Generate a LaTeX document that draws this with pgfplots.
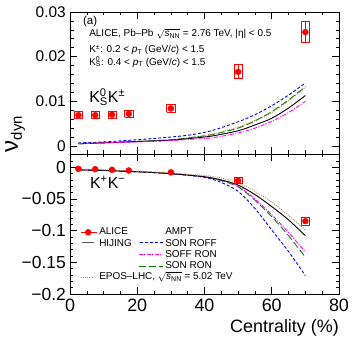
\documentclass[border=0pt]{standalone}
\usepackage{fontspec}
\setmainfont{Liberation Sans}
\usepackage{pgfplots}
\pgfplotsset{compat=1.18}

\definecolor{rred}{RGB}{255,0,0}
\definecolor{rblue}{RGB}{0,0,255}
\definecolor{rmag}{RGB}{255,0,255}
\definecolor{rgreen}{RGB}{0,135,0}
\definecolor{rbrown}{RGB}{175,130,90}

\newcommand{\sNN}{$\sqrt{\mbox{\textit{s}\textsubscript{NN}}}$}
\newcommand{\KS}{K\rlap{\textsuperscript{0}}\textsubscript{S}}

\tikzset{
  son roff/.style={draw=rblue, color=rblue, line width=0.9bp, dash pattern=on 3bp off 2bp},
  soff ron/.style={draw=rmag, color=rmag, line width=0.9bp, dash pattern=on 4bp off 1.5bp on 1bp off 1.5bp},
  son ron/.style={draw=rgreen, color=rgreen, line width=0.9bp, dash pattern=on 7bp off 3bp},
  epos/.style={draw=rbrown, color=rbrown, line width=0.9bp, dash pattern=on 1bp off 1.2bp},
  hijing/.style={draw=black, color=black, line width=0.9bp},
}

\pgfplotsset{
  rootframe/.style={
    scale only axis, width=269bp,
    xmin=0, xmax=80,
    axis line style={line width=0.8bp},
    major tick length=7bp, minor tick length=3.5bp,
    every tick/.style={line width=0.6bp, black},
    xtick={0,20,40,60,80},
    minor xtick={5,10,15,25,30,35,45,50,55,65,70,75},
    scaled y ticks=false, scaled x ticks=false,
    clip=false,
    yticklabel style={inner sep=0pt, xshift=-4bp},
  },
  alice syst/.style={rred, line width=0.7bp, no marks, unbounded coords=jump, forget plot},
  alice pts/.style={rred, only marks, mark=*, mark size=3bp, forget plot,
    error bars/.cd, y dir=both, y explicit, error mark=none,
    error bar style={line width=0.8bp, rred}},
  legbase/.style={draw=none, fill=none, font=\fontsize{10}{11}\selectfont,
    inner sep=0pt, row sep=0pt,
    nodes={text height=7.5bp, text depth=2.5bp, inner sep=0.6bp},
    /tikz/every odd column/.append style={column sep=1.5bp}},
}

\begin{document}
\begin{tikzpicture}
\path[use as bounding box] (-70bp,-50bp) rectangle (284bp,294bp);

% ---------------- top panel: K0S K+-
\begin{axis}[rootframe,
  at={(0bp,140bp)}, anchor=south west,
  height=142bp,
  ymin=-0.0018, ymax=0.03,
  ytick={0,0.01,0.02,0.03},
  yticklabels={0,0.01,0.02,0.03},
  minor ytick={0.002,0.004,0.006,0.008,0.012,0.014,0.016,0.018,0.022,0.024,0.026,0.028},
  yticklabel style={font=\fontsize{15.5}{16}\selectfont},
  xticklabel=\empty,
  legend style={legbase, at={(rel axis cs:0.253,-0.511)}, anchor=north west},
  legend cell align=left,
]
\addplot[son roff, smooth, forget plot] coordinates {(2.5,0.0007) (10,0.0009) (20,0.0014) (30,0.0020) (36,0.0025) (42,0.0034) (50,0.0054) (55,0.0070) (60,0.0090) (65,0.0114) (70,0.0141)};
\addplot[son ron, smooth, forget plot] coordinates {(2.5,0.0005) (10,0.0007) (20,0.0010) (30,0.0014) (36,0.0019) (42,0.0025) (50,0.0040) (55,0.0056) (60,0.0077) (65,0.0103) (70,0.0133)};
\addplot[epos, smooth, forget plot] coordinates {(2.5,0.0005) (10,0.0007) (20,0.0010) (30,0.0014) (36,0.0019) (42,0.0026) (50,0.0042) (55,0.0057) (60,0.0075) (65,0.0101) (70,0.0131)};
\addplot[hijing, smooth, forget plot] coordinates {(2.5,0.0005) (10,0.0007) (20,0.0010) (30,0.0013) (36,0.0017) (42,0.0022) (50,0.0034) (55,0.0047) (60,0.0062) (65,0.0085) (70,0.0113)};
\addplot[soff ron, smooth, forget plot] coordinates {(2.5,0.0005) (10,0.0007) (20,0.0009) (30,0.0012) (36,0.0015) (42,0.0018) (50,0.0029) (55,0.0040) (60,0.0055) (65,0.0075) (70,0.0100)};
% systematic boxes
\addplot[alice syst] coordinates {
 (1.3,0.0061) (3.7,0.0061) (3.7,0.0077) (1.3,0.0077) (1.3,0.0061) (1.3,nan)
 (6.3,0.0061) (8.7,0.0061) (8.7,0.0077) (6.3,0.0077) (6.3,0.0061) (6.3,nan)
 (11.3,0.0062) (13.7,0.0062) (13.7,0.0078) (11.3,0.0078) (11.3,0.0062) (11.3,nan)
 (16.3,0.0064) (18.7,0.0064) (18.7,0.0080) (16.3,0.0080) (16.3,0.0064) (16.3,nan)
 (28.8,0.0075) (31.2,0.0075) (31.2,0.0093) (28.8,0.0093) (28.8,0.0075) (28.8,nan)
 (48.8,0.0151) (51.2,0.0151) (51.2,0.0183) (48.8,0.0183) (48.8,0.0151) (48.8,nan)
 (68.8,0.0231) (71.2,0.0231) (71.2,0.0279) (68.8,0.0279) (68.8,0.0231)};
\addplot[alice pts] coordinates {
 (2.5,0.0069) +- (0,0.0002) (7.5,0.0069) +- (0,0.0002) (12.5,0.0070) +- (0,0.0002)
 (17.5,0.0072) +- (0,0.0002) (30,0.0084) +- (0,0.0003) (50,0.0166) +- (0,0.0015)
 (70,0.0255) +- (0,0.0022)};

\addlegendimage{empty legend}\addlegendentry{AMPT}
\addlegendimage{empty legend}\addlegendentry{SON ROFF}
\addlegendimage{legend image code/.code={\draw[rmag, line width=0.9bp, dash pattern=on 4bp off 1.5bp on 1bp off 1.5bp] (0bp,0bp) -- (24bp,0bp);}}\addlegendentry{SOFF RON}
\addlegendimage{legend image code/.code={\draw[rgreen, line width=0.9bp, dash pattern=on 7bp off 3bp] (0bp,0bp) -- (24bp,0bp);}}\addlegendentry{SON RON}
% line sample of the SON ROFF legend row
\draw[son roff] (rel axis cs:0.2602,-0.6197) -- (rel axis cs:0.3494,-0.6197);

\node[anchor=west, inner sep=0pt, font=\fontsize{11.5}{12}\selectfont] at (rel axis cs:0.048,0.930) {(a)};
\begin{scope}[every node/.style={anchor=west, inner sep=0pt, font=\fontsize{10}{11}\selectfont}]
\node at (rel axis cs:0.071,0.845) {ALICE, Pb--Pb \sNN{} = 2.76 TeV, |η| < 0.5};
\node at (rel axis cs:0.071,0.732) {K\textsuperscript{±}: 0.2 < \textit{p}\textsubscript{T} (GeV/\textit{c}) < 1.5};
\node at (rel axis cs:0.071,0.648) {\KS: 0.4 < \textit{p}\textsubscript{T} (GeV/\textit{c}) < 1.5};
\end{scope}
\node[anchor=west, inner sep=0pt, font=\fontsize{16}{17}\selectfont] at (rel axis cs:0.071,0.401) {\KS K\textsuperscript{±}};
\end{axis}

% ---------------- bottom panel: K+ K-
\begin{axis}[rootframe,
  at={(0bp,0bp)}, anchor=south west,
  height=140bp,
  ymin=-0.2, ymax=0.021,
  ytick={-0.2,-0.15,-0.1,-0.05,0},
  yticklabels={−0.2,−0.15,−0.1,−0.05,0},
  minor ytick={-0.19,-0.18,-0.17,-0.16,-0.14,-0.13,-0.12,-0.11,-0.09,-0.08,-0.07,-0.06,-0.04,-0.03,-0.02,-0.01,0.01,0.02},
  yticklabel style={font=\fontsize{17.5}{18}\selectfont},
  xticklabels={0,20,40,60,80},
  xticklabel style={font=\fontsize{18}{18}\selectfont, inner sep=0pt, yshift=-4.5bp},
  xlabel={Centrality (\%)},
  xlabel style={at={(rel axis cs:1,0)}, anchor=base east, yshift=-38bp, inner sep=0pt,
    font=\fontsize{18}{18}\selectfont},
  legend style={legbase, at={(rel axis cs:0.037,0.482)}, anchor=north west},
  legend cell align=left,
]
\addplot[son roff, smooth, forget plot] coordinates {(2.5,-0.004) (10,-0.005) (20,-0.007) (30,-0.010) (40,-0.016) (45,-0.024) (50,-0.038) (55,-0.065) (60,-0.099) (65,-0.133) (70,-0.171)};
\addplot[son ron, smooth, forget plot] coordinates {(2.5,-0.004) (10,-0.005) (20,-0.007) (30,-0.010) (40,-0.015) (45,-0.021) (50,-0.031) (55,-0.052) (60,-0.078) (65,-0.108) (70,-0.142)};
\addplot[soff ron, smooth, forget plot] coordinates {(2.5,-0.004) (10,-0.005) (20,-0.007) (30,-0.010) (40,-0.015) (45,-0.021) (50,-0.030) (55,-0.050) (60,-0.075) (65,-0.103) (70,-0.134)};
\addplot[hijing, smooth, forget plot] coordinates {(2.5,-0.004) (10,-0.005) (20,-0.007) (30,-0.010) (40,-0.015) (45,-0.020) (50,-0.028) (55,-0.043) (60,-0.062) (65,-0.083) (70,-0.108)};
\addplot[epos, smooth, forget plot] coordinates {(2.5,-0.003) (10,-0.004) (20,-0.006) (30,-0.009) (40,-0.013) (45,-0.017) (50,-0.025) (55,-0.038) (60,-0.055) (65,-0.076) (70,-0.099)};
\addplot[alice syst] coordinates {
 (48.8,-0.0257) (51.2,-0.0257) (51.2,-0.0163) (48.8,-0.0163) (48.8,-0.0257) (48.8,nan)
 (68.8,-0.0913) (71.2,-0.0913) (71.2,-0.0787) (68.8,-0.0787) (68.8,-0.0913)};
\addplot[alice pts] coordinates {
 (2.5,-0.0024) +- (0,0.001) (7.5,-0.003) +- (0,0.001) (12.5,-0.004) +- (0,0.001)
 (17.5,-0.005) +- (0,0.001) (30,-0.008) +- (0,0.001) (50,-0.021) +- (0,0.002)
 (70,-0.085) +- (0,0.004)};

\addlegendimage{legend image code/.code={\draw[rred, line width=1bp] (0bp,0bp) -- (16bp,0bp); \fill[rred] (7.5bp,0bp) circle[radius=3bp];}}\addlegendentry{ALICE}
\addlegendimage{empty legend}\addlegendentry{HIJING}
\addlegendimage{empty legend}\addlegendentry{}
\addlegendimage{empty legend}\addlegendentry{}
\addlegendimage{legend image code/.code={\draw[rbrown, line width=0.9bp, dash pattern=on 1bp off 1.2bp] (0bp,0bp) -- (12bp,0bp);}}\addlegendentry{EPOS--LHC, \sNN{} = 5.02 TeV}
% line sample of the HIJING legend row
\draw[black!65, line width=1.4bp] (rel axis cs:0.0446,0.368) -- (rel axis cs:0.0892,0.368);

\node[anchor=west, inner sep=0pt, font=\fontsize{16}{17}\selectfont] at (rel axis cs:0.074,0.80) {K\textsuperscript{+}K\textsuperscript{−}};
\node[rotate=90, inner sep=0pt] at (rel axis cs:-0.2045,1.143)
  {{\fontsize{24}{24}\selectfont ν}\raisebox{-4bp}{\fontsize{15}{15}\selectfont dyn}};
\end{axis}
\end{tikzpicture}
\end{document}
